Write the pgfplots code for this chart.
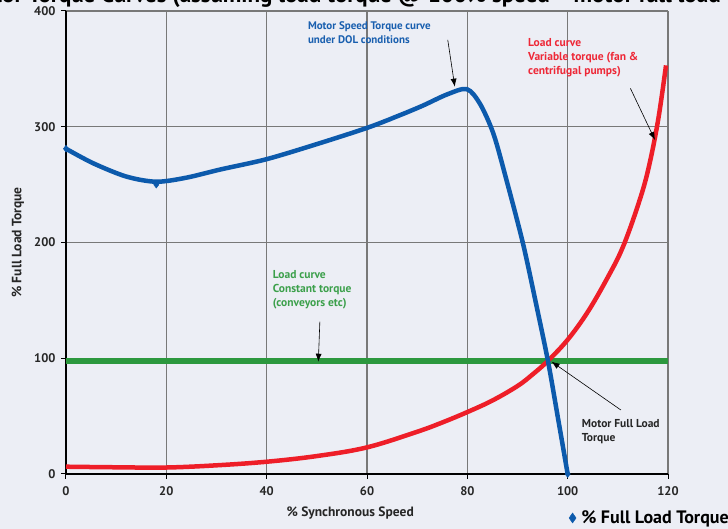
\documentclass[border=0pt]{standalone}
\usepackage{fontspec}
\setmainfont{PT Sans}
\usepackage{pgfplots}
\pgfplotsset{compat=1.18}
\usetikzlibrary{arrows.meta}
\definecolor{bg}{RGB}{236,238,245}
\definecolor{mblue}{RGB}{12,90,172}
\definecolor{mred}{RGB}{238,30,40}
\definecolor{mgreen}{RGB}{44,152,62}
\definecolor{tblue}{RGB}{25,95,175}
\definecolor{tred}{RGB}{238,40,55}
\definecolor{tgreen}{RGB}{60,160,75}
\definecolor{gridc}{RGB}{120,120,120}
\begin{document}
\begin{tikzpicture}
\useasboundingbox (-66pt,-55pt) rectangle (662pt,474pt);
\fill[bg] (-66pt,-55pt) rectangle (662pt,474pt);
\node[anchor=base west, font=\fontsize{23}{26}\selectfont\bfseries, inner sep=0] at (-64pt,471pt) {\llap{Mot}or Torque Curves (assuming load torque @ 100\% speed = motor full load torque)};
\begin{axis}[
  scale only axis, width=602pt, height=463pt,
  xmin=0, xmax=120, ymin=0, ymax=400,
  xtick={0,20,...,120}, ytick={0,100,...,400},
  axis lines=left, axis line style={-, black, line width=1.2pt},
  grid=major, grid style={gridc, line width=1.2pt},
  tick style={black, line width=1pt}, tick align=outside, major tick length=5pt,
  ticklabel style={font=\fontsize{12.5}{14}\selectfont\bfseries, text=black!85},
  xticklabel style={yshift=-4pt},
  yticklabel style={xshift=-2pt},
  /pgf/number format/assume math mode=true,
  xlabel={\% Synchronous Speed},
  ylabel={\% Full Load Torque},
  label style={font=\fontsize{13.5}{15}\selectfont\bfseries, text=black!85},
  xlabel style={at={(axis description cs:0.472,-0.084)}, anchor=center},
  ylabel style={at={(axis description cs:-0.08,0.5)}, anchor=center},
  legend style={at={(axis description cs:0.835,-0.095)}, anchor=west, draw=none, fill=none,
    font=\fontsize{18}{20}\selectfont\bfseries, inner sep=0pt},
  clip=false,
]
% constant torque load
\addplot[mgreen, line width=6pt, forget plot] coordinates {(0,98) (120,98)};
% variable torque load
\addplot[mred, line width=4.5pt, smooth, tension=0.6, forget plot] coordinates {
 (0,6.3) (10,5.8) (20,5.6) (30,7.5) (40,10.6) (50,15.5) (60,23) (70,36.5) (75,44.5) (80,53.5)
 (85,63.5) (90,76) (93,86) (96,97.5) (100,116) (104,140) (108,170) (111,196) (114,232)
 (116,262) (118,305) (119.6,353)};
% motor torque
\addplot[mblue, line width=4.5pt, smooth, tension=0.5, forget plot] coordinates {
 (0,281) (5.4,268.5) (12,257) (18,252.5) (24,256) (30.7,263) (40,272) (50,285) (60,299)
 (66,309) (71,318) (76,328) (79.9,332.5) (82.5,320) (85.2,294) (87.8,254)
 (91.1,199) (93.8,145) (96.1,97) (98,50) (100,0)};
\addplot[only marks, mark=diamond*, mark size=3.5pt, mblue,
  legend image code/.code={\draw[mblue, fill=mblue] (0pt,0pt) -- (3.5pt,5pt) -- (7pt,0pt) -- (3.5pt,-5pt) -- cycle;}]
  coordinates {(0,281) (18,250) (100,0)};
\addlegendentry{\hspace{3pt}\% Full Load Torque}
% annotations
\node[anchor=north west, align=left, font=\fontsize{11}{14}\selectfont\bfseries, text=tblue, inner sep=0] at (axis cs:48.2,391) {Motor Speed Torque curve\\under DOL conditions};
\draw[-{Latex[length=8pt,width=6pt]}, line width=0.6pt] (axis cs:76.1,375) -- (axis cs:77.5,334.6);
\node[anchor=north west, align=left, font=\fontsize{11.5}{14}\selectfont\bfseries, text=tred, inner sep=0] at (axis cs:92.1,376.4) {Load curve\\Variable torque (fan \&\\centrifugal pumps)};
\draw[-{Latex[length=8pt,width=6pt]}, line width=0.6pt] (axis cs:112.5,333.2) -- (axis cs:117.4,288.6);
\node[anchor=north west, align=left, font=\fontsize{11.5}{14}\selectfont\bfseries, text=tgreen, inner sep=0] at (axis cs:41.2,176.2) {Load curve\\Constant torque\\(conveyors etc)};
\draw[-{Latex[length=8pt,width=6pt]}, line width=0.6pt] (axis cs:50.6,131.6) -- (axis cs:50.3,97);
\node[anchor=north west, align=left, font=\fontsize{11.5}{14}\selectfont\bfseries, text=black!85, inner sep=0] at (axis cs:102.8,47.2) {Motor Full Load\\Torque};
\draw[-{Latex[length=8pt,width=6pt]}, line width=0.6pt] (axis cs:110.6,55.3) -- (axis cs:96.8,97);
\end{axis}
\end{tikzpicture}
\end{document}
